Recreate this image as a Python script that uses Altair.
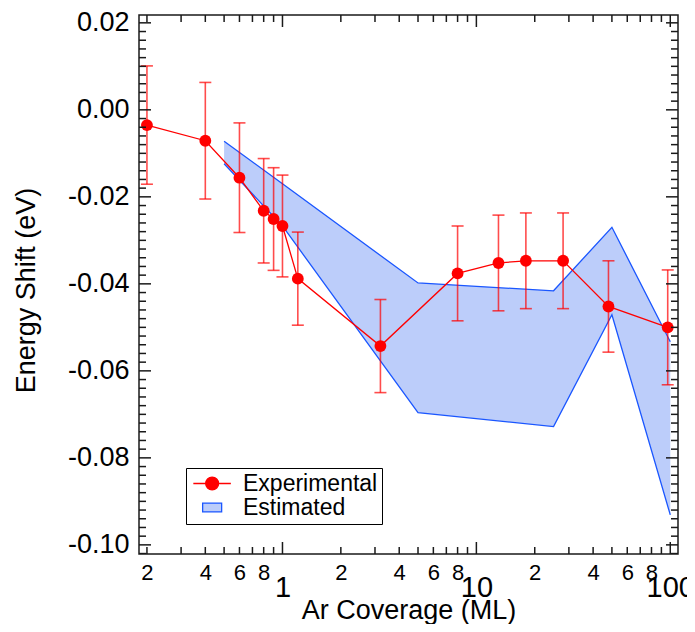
import json
import altair as alt
import numpy as np
import pandas as pd

# ---------------- data ----------------
coverage = [0.2, 0.4, 0.6, 0.8, 0.9, 1.0, 1.2, 3.2, 8.0, 13.0, 18.0, 28.0, 48.0, 97.0]
shift = [-0.0035, -0.0071, -0.0156, -0.0232, -0.0251, -0.0267, -0.0388,
         -0.0543, -0.0376, -0.0352, -0.0347, -0.0347, -0.0452, -0.0500]
err = [0.0136, 0.0134, 0.0126, 0.0120, 0.0118, 0.0117, 0.0107,
       0.0107, 0.0109, 0.0110, 0.0110, 0.0110, 0.0105, 0.0132]

band_x = [0.5, 1.0, 5.0, 25.0, 50.0, 100.0]
band_upper = [-0.0072, -0.0170, -0.0398, -0.0416, -0.0270, -0.0533]
band_lower = [-0.0124, -0.0267, -0.0696, -0.0728, -0.0471, -0.0931]

xtick_values = [0.2, 0.4, 0.6, 0.8, 1, 2, 4, 6, 8, 10, 20, 40, 60, 80, 100]
xtick_labels = ["2", "4", "6", "8", "1", "2", "4", "6", "8", "10", "2", "4", "6", "8", "100"]
xtick_major = [1, 10, 100]
xtick_minor = [0.2, 0.3, 0.4, 0.5, 0.6, 0.7, 0.8, 0.9,
               2, 3, 4, 5, 6, 7, 8, 9,
               20, 30, 40, 50, 60, 70, 80, 90]
ytick_values = [0.02, 0.0, -0.02, -0.04, -0.06, -0.08, -0.10]
ytick_labels = ["0.02", "0.00", "-0.02", "-0.04", "-0.06", "-0.08", "-0.10"]
ytick_minor = [v for v in np.round(np.arange(-0.102, 0.0215, 0.002), 4).tolist()
               if not any(abs(v - m) < 1e-9 for m in ytick_values)]

legend_series = ["Experimental", "Estimated"]

X_DOMAIN = [0.182, 109.6]
Y_DOMAIN = [-0.1021, 0.0218]

FONT = "Liberation Sans, Arial, Helvetica, sans-serif"
RED = "#ff0000"
BLUE = "#1a56ff"
BAND_FILL = "#bccdfa"
W, H = 539, 539

# ---------------- frames ----------------
exp_df = pd.DataFrame({"coverage": coverage, "shift": shift, "err": err})
exp_df["lo"] = exp_df["shift"] - exp_df["err"]
exp_df["hi"] = exp_df["shift"] + exp_df["err"]
band_df = pd.DataFrame({"coverage": band_x, "upper": band_upper, "lower": band_lower})

xt_df = pd.DataFrame({"coverage": xtick_major + xtick_minor,
                      "len": [24] * len(xtick_major) + [14] * len(xtick_minor)})
yt_df = pd.DataFrame({"shift": ytick_values + ytick_minor,
                      "len": [24] * len(ytick_values) + [14] * len(ytick_minor)})
leg_df = pd.DataFrame({"series": legend_series})

xscale = alt.Scale(type="log", domain=X_DOMAIN, nice=False)
yscale = alt.Scale(domain=Y_DOMAIN, nice=False, zero=False)

major_test = "datum.value == 1 || datum.value == 10 || datum.value == 100"
x_label_expr = "{}[indexof({}, datum.value)]".format(json.dumps(xtick_labels), json.dumps(xtick_values))
y_label_expr = "{}[indexof({}, datum.value)]".format(json.dumps(ytick_labels), json.dumps(ytick_values))

x_axis = alt.Axis(
    values=xtick_values, labelExpr=x_label_expr, ticks=False, domain=False, grid=False,
    labelFontSize={"condition": {"test": major_test, "value": 29}, "value": 22},
    labelPadding={"condition": {"test": major_test, "value": 19}, "value": 8},
    labelBaseline="top", labelOverlap=False, labelFlush=False,
    labelFont=FONT, labelColor="black",
    title="Ar Coverage (ML)", titleFont=FONT, titleFontSize=27, titleFontWeight="normal",
    titleColor="black", titleY=64, titleBaseline="alphabetic",
)
y_axis = alt.Axis(
    values=ytick_values, labelExpr=y_label_expr, ticks=False, domain=False, grid=False,
    labelFontSize=27, labelPadding=10, labelFont=FONT, labelColor="black",
    labelOverlap=False, labelFlush=False,
    title="Energy Shift (eV)", titleFont=FONT, titleFontSize=27, titleFontWeight="normal",
    titleColor="black", titleX=-105, titleY=275, titleBaseline="alphabetic",
)

X = alt.X("coverage:Q", scale=xscale, axis=x_axis)

band_area = alt.Chart(band_df).mark_area(color=BAND_FILL, opacity=1).encode(
    x=X,
    y=alt.Y("upper:Q", scale=yscale, axis=y_axis),
    y2="lower:Q",
)
band_up = alt.Chart(band_df).mark_line(color=BLUE, strokeWidth=1.3).encode(
    x=X, y=alt.Y("upper:Q", scale=yscale, axis=y_axis))
band_lo = alt.Chart(band_df).mark_line(color=BLUE, strokeWidth=1.3).encode(
    x=X, y=alt.Y("lower:Q", scale=yscale, axis=y_axis))

err_rule = alt.Chart(exp_df).mark_rule(color=RED, opacity=0.7, strokeWidth=1.6).encode(
    x=X, y=alt.Y("lo:Q", scale=yscale, axis=y_axis), y2="hi:Q")
cap_lo = alt.Chart(exp_df).mark_tick(color=RED, opacity=0.7, thickness=1.6, size=12,
                                     orient="horizontal").encode(
    x=X, y=alt.Y("lo:Q", scale=yscale, axis=y_axis))
cap_hi = alt.Chart(exp_df).mark_tick(color=RED, opacity=0.7, thickness=1.6, size=12,
                                     orient="horizontal").encode(
    x=X, y=alt.Y("hi:Q", scale=yscale, axis=y_axis))

exp_line = alt.Chart(exp_df).mark_line(color=RED, strokeWidth=1.3).encode(
    x=X, y=alt.Y("shift:Q", scale=yscale, axis=y_axis))
exp_pts = alt.Chart(exp_df).mark_circle(color=RED, size=140, opacity=1).encode(
    x=X, y=alt.Y("shift:Q", scale=yscale, axis=y_axis))

# inward tick marks on all four sides (clipped at the frame)
tick_kw = dict(color="#1a1a1a", thickness=1.5, clip=True, opacity=1)
xt_bottom = alt.Chart(xt_df).mark_tick(orient="vertical", **tick_kw).encode(
    x=X, y=alt.value(H), size=alt.Size("len:Q", scale=None, legend=None))
xt_top = alt.Chart(xt_df).mark_tick(orient="vertical", **tick_kw).encode(
    x=X, y=alt.value(0), size=alt.Size("len:Q", scale=None, legend=None))
Yt = alt.Y("shift:Q", scale=yscale, axis=y_axis)
yt_left = alt.Chart(yt_df).mark_tick(orient="horizontal", **tick_kw).encode(
    y=Yt, x=alt.value(0), size=alt.Size("len:Q", scale=None, legend=None))
yt_right = alt.Chart(yt_df).mark_tick(orient="horizontal", **tick_kw).encode(
    y=Yt, x=alt.value(W), size=alt.Size("len:Q", scale=None, legend=None))

# legend (drawn from scales; the layer itself has no rows)
# symbol box is 19 px (size 361); shapes are offset to the right within it
exp_shape = ("M-0.86,0H3.09M1.80,0A0.68,0.68,0,1,1,0.44,0"
             "A0.68,0.68,0,1,1,1.80,0Z")
est_shape = "M0.12,-0.47H2.12V0.47H0.12Z"
leg = alt.Legend(
    title=None, orient="none", legendX=47, legendY=453,
    symbolSize=361, symbolStrokeWidth=1.3, symbolOpacity=1,
    labelFont=FONT, labelFontSize=23, labelColor="black", labelOffset=30,
    strokeColor="black", fillColor="white", padding=4, rowPadding=0,
)
legend_layer = alt.Chart(leg_df).transform_filter("datum.series == 'none'").mark_point(
    filled=True, opacity=1).encode(
    x=alt.value(0), y=alt.value(0),
    shape=alt.Shape("series:N", scale=alt.Scale(domain=legend_series, range=[exp_shape, est_shape]), legend=leg),
    fill=alt.Fill("series:N", scale=alt.Scale(domain=legend_series, range=[RED, BAND_FILL]), legend=leg),
    stroke=alt.Stroke("series:N", scale=alt.Scale(domain=legend_series, range=[RED, BLUE]), legend=leg),
)

chart = alt.layer(
    band_area, band_up, band_lo, err_rule, cap_lo, cap_hi, exp_line, exp_pts,
    xt_bottom, xt_top, yt_left, yt_right, legend_layer,
).properties(
    width=W, height=H,
    autosize=alt.AutoSizeParams(type="none"),
    padding={"left": 131, "top": 7, "right": 9, "bottom": 70},
    background="white",
).configure_view(stroke="#1a1a1a", strokeWidth=1.5)

chart.save("out.html", embed_options={"renderer": "svg", "actions": False})
